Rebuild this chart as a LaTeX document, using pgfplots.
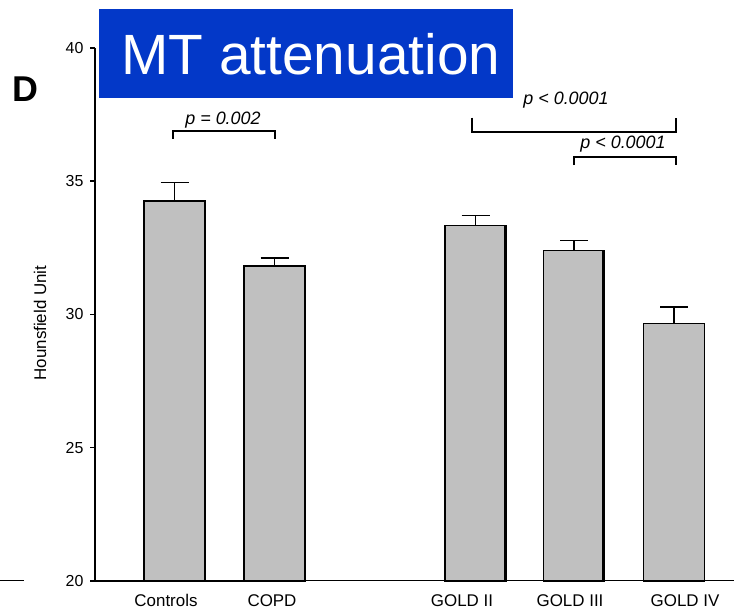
\documentclass[border=0pt]{standalone}
\usepackage{pgfplots}
\pgfplotsset{compat=1.18}
\usepackage{fontspec}
\setmainfont{Liberation Sans}
\definecolor{boxblue}{RGB}{3,56,200}
\definecolor{bargray}{RGB}{192,192,192}
\begin{document}
\begin{tikzpicture}[x=1bp,y=1bp]
\useasboundingbox (0,0) rectangle (734,616);
\begin{axis}[
  at={(95bp,35bp)}, anchor=south west,
  scale only axis, width=639bp, height=533bp,
  xmin=95, xmax=734, ymin=20, ymax=40,
  clip=false,
  axis x line=none,
  axis y line*=left,
  y axis line style={line width=2.2pt},
  ytick={20,25,30,35,40},
  yticklabel style={font=\fontsize{16}{16}\selectfont, xshift=-3bp},
  /pgf/number format/assume math mode=true,
  tick style={black, line width=1.5pt},
  ytick pos=left,
  major tick length=5bp,
  tick align=outside,
  ylabel={Hounsfield Unit},
  ylabel style={font=\fontsize{17}{17}\selectfont, at={(axis description cs:-0.086,0.484)}, anchor=center},
  ybar, bar width=61,
  bar shift=0pt,
]
\addplot[draw=black, line width=1.4pt, fill=bargray,
  error bars/.cd, y dir=plus, y explicit,
  error bar style={line width=1.2pt, black},
  error mark options={rotate=90, mark size=14bp, line width=1.2pt}]
  coordinates {
  (174.5,34.26) +- (0,0.68)
  (274.5,31.82) +- (0,0.30)
  (475.5,33.33) +- (0,0.38)
  (574,32.41) +- (0,0.37)
  (674,29.67) +- (0,0.61)
};
% axis baselines
\draw[line width=2.4pt] (axis cs:95,20) -- (axis cs:262,20);
\draw[line width=1.1pt] (axis cs:262,20.02) -- (axis cs:734,20.02);
\draw[line width=1.1pt] (axis cs:0,20.02) -- (axis cs:24,20.02);
% thicker right edges of GOLD bars
\draw[line width=2.6pt] (axis cs:505,20) -- (axis cs:505,33.33);
\draw[line width=2.6pt] (axis cs:603.5,20) -- (axis cs:603.5,32.41);
% brackets
\addplot[sharp plot, line width=2pt, black] coordinates {(173,36.6) (173,36.9) (275,36.9) (275,36.6)};
\addplot[sharp plot, line width=2pt, black] coordinates {(472,37.39) (472,36.83) (676,36.83) (676,37.39)};
\addplot[sharp plot, line width=2pt, black] coordinates {(574,35.6) (574,35.9) (676,35.9) (676,35.6)};
\node[font=\fontsize{18}{18}\selectfont\itshape] at (axis cs:223,37.31) {p = 0.002};
\node[font=\fontsize{18}{18}\selectfont\itshape] at (axis cs:566,38.05) {p < 0.0001};
\node[font=\fontsize{18}{18}\selectfont\itshape] at (axis cs:623,36.4) {p < 0.0001};
% x labels
\foreach \xx/\lab in {166/Controls,272/COPD,462/GOLD II,570/GOLD III,685/GOLD IV}{
  \edef\tmp{\noexpand\node[font=\noexpand\fontsize{17}{17}\noexpand\selectfont] at (axis cs:\xx,19.28) {\lab};}\tmp
}
\end{axis}
% panel letter and title box
\node[font=\fontsize{36}{36}\selectfont\bfseries] at (25bp,616bp-89bp) {D};
\fill[boxblue] (99bp,616bp-98bp) rectangle (513bp,616bp-9bp);
\node[white, font=\fontsize{57}{57}\selectfont, anchor=base west] at (118bp,616bp-75bp) {MT attenuation};
\end{tikzpicture}
\end{document}
